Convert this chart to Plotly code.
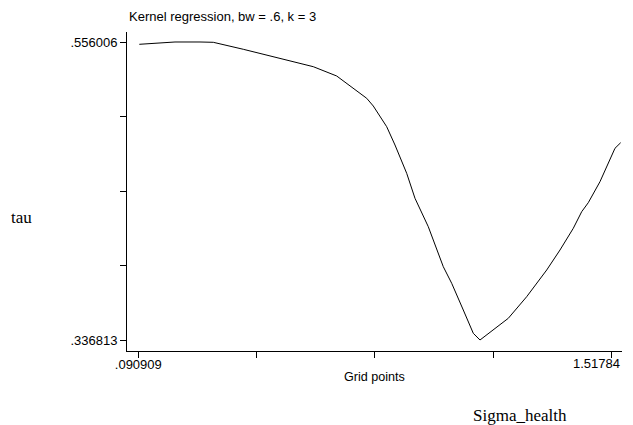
import plotly.graph_objects as go

# grid points and kernel-regression estimate of tau
grid = [0.09392, 0.20153, 0.27689, 0.31698, 0.40740, 0.54816, 0.61840, 0.68893,
        0.71907, 0.77935, 0.79925, 0.83964, 0.86466, 0.89992, 0.92494, 0.96503,
        1.01024, 1.03556, 1.07053, 1.10067, 1.12086, 1.20616, 1.26163, 1.32191,
        1.36200, 1.40209, 1.42741, 1.44730, 1.48257, 1.52778, 1.54496]
tau = [0.55431, 0.55601, 0.55601, 0.55578, 0.55064, 0.54225, 0.53784, 0.53100,
       0.52563, 0.51460, 0.50893, 0.49371, 0.48024, 0.45943, 0.44104, 0.42015,
       0.39073, 0.37852, 0.35888, 0.34174, 0.33681, 0.35277, 0.36866, 0.38830,
       0.40301, 0.41897, 0.43118, 0.43780, 0.45325, 0.47782, 0.48194]

x_ticks = [0.090909, 0.447642, 0.804375, 1.161107, 1.51784]
x_labels = ['.090909', '', '', '', '']
x_last_label = '1.51784'   # drawn right-aligned to the axis end, like the original
y_ticks = [0.336813, 0.391611, 0.446410, 0.501208, 0.556006]
y_labels = ['.336813', '', '', '', '.556006']

SANS = 'Liberation Sans, Arial, sans-serif'
SERIF = 'Liberation Serif, Times New Roman, serif'

fig = go.Figure()
fig.add_trace(go.Scatter(x=grid, y=tau, mode='lines',
                         line=dict(color='black', width=1), showlegend=False))

# page body has an 8px default margin, so the figure is 8px smaller than the window
fig.update_layout(
    width=625, height=417,
    margin=dict(l=119, r=11, t=24, b=74),
    paper_bgcolor='white', plot_bgcolor='white',
    font=dict(family=SANS, size=13, color='black'),
    xaxis=dict(range=[0.05685, 1.54893], tickvals=x_ticks, ticktext=x_labels,
               automargin=False, ticklabelstandoff=-5,
               showgrid=False, zeroline=False, showline=True, linecolor='black',
               linewidth=1, ticks='outside', ticklen=6, tickcolor='black'),
    yaxis=dict(range=[0.32872, 0.56336], tickvals=y_ticks, ticktext=y_labels,
               automargin=False,
               showgrid=False, zeroline=False, showline=True, linecolor='black',
               linewidth=1, ticks='outside', ticklen=6, tickcolor='black'),
)

fig.add_annotation(text=x_last_label, xref='paper', yref='paper',
                   x=1.0, y=-0.038, xanchor='right', yanchor='middle', showarrow=False,
                   font=dict(family=SANS, size=13))
fig.add_annotation(text='Kernel regression, bw = .6, k = 3', xref='paper', yref='paper',
                   x=0.0, y=1.05, xanchor='left', yanchor='middle', showarrow=False,
                   font=dict(family=SANS, size=13))
fig.add_annotation(text='Grid points', xref='paper', yref='paper',
                   x=0.5, y=-0.0815, xanchor='center', yanchor='middle', showarrow=False,
                   font=dict(family=SANS, size=12.6))
fig.add_annotation(text='tau', xref='paper', yref='paper',
                   x=-0.2141, y=0.42, xanchor='center', yanchor='middle', showarrow=False,
                   font=dict(family=SERIF, size=17))
fig.add_annotation(text='Sigma_health', xref='paper', yref='paper',
                   x=0.794, y=-0.202, xanchor='center', yanchor='middle', showarrow=False,
                   font=dict(family=SERIF, size=17))

fig.write_html('out.html')
